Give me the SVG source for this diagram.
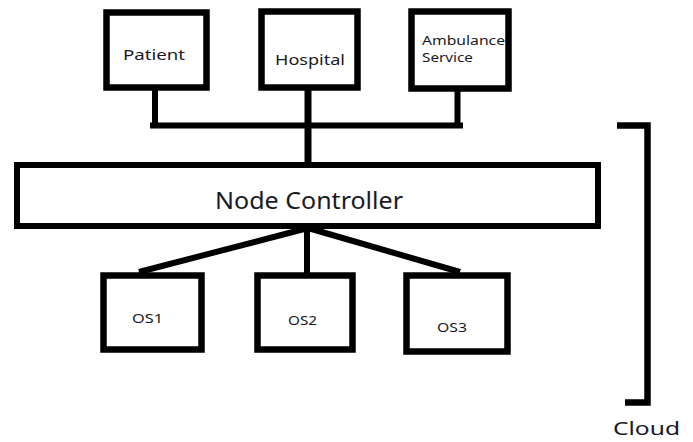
<svg xmlns="http://www.w3.org/2000/svg" width="693" height="442" viewBox="0 0 693 442">
<style>
.box{fill:#fff;stroke:#000;stroke-width:6.5}
.ln{fill:none;stroke:#000;stroke-width:6}
.t{font-family:"Noto Sans","Open Sans","DejaVu Sans",sans-serif;fill:#1a1a24}
</style>
<rect width="693" height="442" fill="#fff"/>
<g id="connectors">
<path class="ln" d="M155 90 V125.5 M457.5 91 V125.5 M150 125.5 H463"/>
<path class="ln" style="stroke-width:7" d="M308 90 V163"/>
<path class="ln" d="M308 228 L139 272 M307 228 V277 M308 228 L460 272"/>
</g>
<g id="patient"><rect class="box" x="106.5" y="12.5" width="100" height="75"/><text class="t" x="154" y="60" font-size="14" text-anchor="middle" textLength="62" lengthAdjust="spacingAndGlyphs">Patient</text></g>
<g id="hospital"><rect class="box" x="261.5" y="11.5" width="96" height="76"/><text class="t" x="310" y="65" font-size="15" text-anchor="middle" textLength="70" lengthAdjust="spacingAndGlyphs">Hospital</text></g>
<g id="ambulance"><rect class="box" x="411.5" y="11.5" width="97" height="77"/><text class="t" x="422" y="45" font-size="12.5" textLength="83" lengthAdjust="spacingAndGlyphs">Ambulance</text><text class="t" x="422" y="62" font-size="12.5" textLength="51" lengthAdjust="spacingAndGlyphs">Service</text></g>
<g id="node-controller"><rect class="box" style="stroke-width:6" x="17" y="165" width="581" height="61"/><text class="t" x="309" y="209" font-size="23" text-anchor="middle" textLength="188" lengthAdjust="spacingAndGlyphs">Node Controller</text></g>
<g id="os1"><rect class="box" x="103.5" y="275.5" width="98" height="74"/><text class="t" x="147.5" y="323" font-size="12" text-anchor="middle" textLength="31" lengthAdjust="spacingAndGlyphs">OS1</text></g>
<g id="os2"><rect class="box" x="257.5" y="275.5" width="95" height="74"/><text class="t" x="302.5" y="325" font-size="12" text-anchor="middle" textLength="29" lengthAdjust="spacingAndGlyphs">OS2</text></g>
<g id="os3"><rect class="box" x="406.5" y="275.5" width="101" height="76"/><text class="t" x="452" y="332" font-size="12" text-anchor="middle" textLength="30" lengthAdjust="spacingAndGlyphs">OS3</text></g>
<g id="cloud"><path class="ln" style="stroke-width:6.5" d="M617 125.5 H647.5 V402.5 H625"/><text class="t" x="613" y="435" font-size="18" textLength="67" lengthAdjust="spacingAndGlyphs">Cloud</text></g>
</svg>
